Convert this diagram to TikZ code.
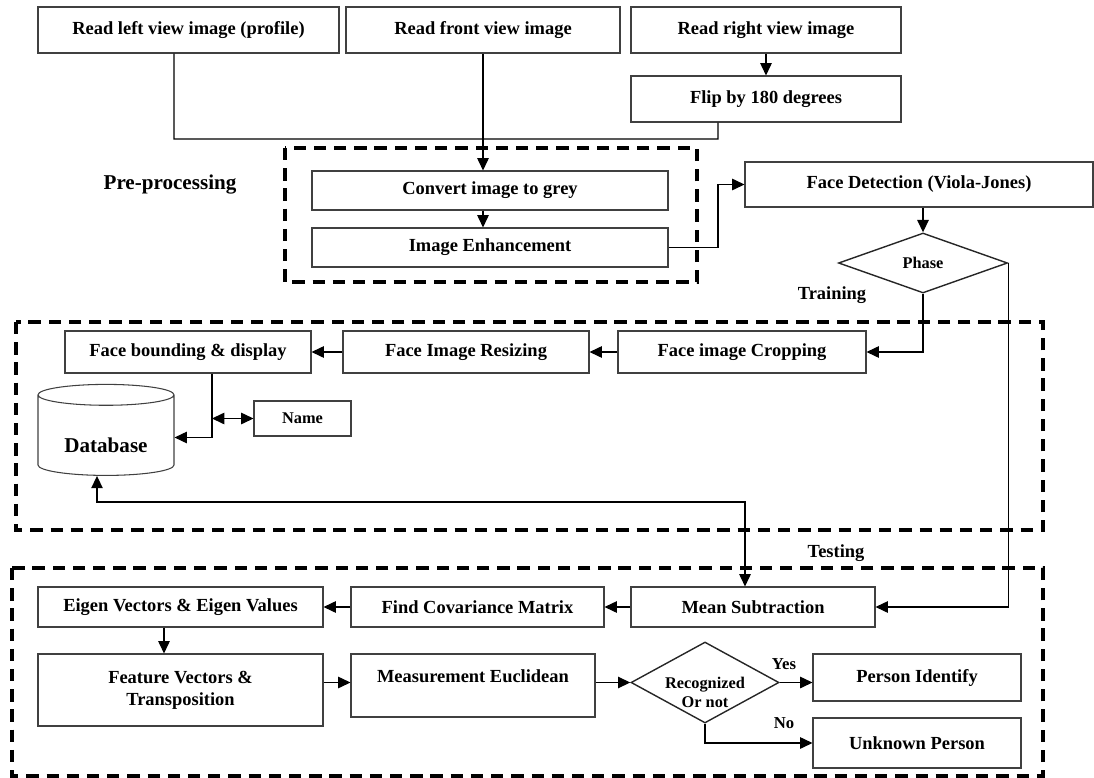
\documentclass[tikz,border=0pt]{standalone}
\usepackage{fontspec}
\setmainfont{Liberation Serif}
\usetikzlibrary{shapes.geometric, arrows.meta, positioning}
\tikzstyle{box} = [rectangle, draw=black!75, line width=0.6pt, text centered, align=center, inner sep=2pt, font=\fontsize{10.5}{12.5}\selectfont\bfseries]
\tikzstyle{decision} = [diamond, draw=black!85, line width=0.8pt, inner sep=0pt, align=center, font=\fontsize{9.3}{10.5}\selectfont\bfseries]
\tikzstyle{dbase} = [cylinder, shape border rotate=90, aspect=0.22, draw=black!75, line width=0.6pt, font=\fontsize{12}{14}\selectfont\bfseries]
\tikzstyle{region} = [line width=1.9pt, dash pattern=on 7pt off 4.5pt]
\tikzstyle{lbl} = [font=\fontsize{10.5}{12}\selectfont\bfseries]
\tikzstyle{link} = [line width=0.7pt]
\tikzstyle{arrow} = [line width=0.7pt, -{Triangle[length=7pt,width=6.5pt]}]
\tikzstyle{both} = [line width=0.7pt, {Triangle[length=7pt,width=6.5pt]}-{Triangle[length=7pt,width=6.5pt]}]

\begin{document}
\begin{tikzpicture}
    \useasboundingbox (0,0) rectangle (21.88,-15.56);

    \node (leftview) [box, minimum width=6.02cm, minimum height=0.92cm] at (3.77,-0.60) {Read left view image (profile)};
    \node (frontview) [box, minimum width=5.48cm, minimum height=0.92cm] at (9.66,-0.60) {Read front view image};
    \node (rightview) [box, minimum width=5.40cm, minimum height=0.92cm] at (15.32,-0.60) {Read right view image};
    \node (flip) [box, minimum width=5.40cm, minimum height=0.92cm] at (15.32,-1.98) {Flip by 180 degrees};

    % pre-processing
    \draw [region] (5.70,-2.96) rectangle (13.94,-5.64);
    \node (prelbl) [lbl, font=\fontsize{12}{14}\selectfont\bfseries] at (3.40,-3.70) {Pre-processing};
    \node (grey) [box, minimum width=7.12cm, minimum height=0.78cm] at (9.80,-3.81) {Convert image to grey};
    \node (enhance) [box, minimum width=7.12cm, minimum height=0.78cm] at (9.80,-4.95) {Image Enhancement};
    \node (detect) [box, minimum width=6.96cm, minimum height=0.90cm] at (18.38,-3.69) {Face Detection (Viola-Jones)};
    \node (phase) [decision, minimum width=3.38cm, minimum height=1.20cm] at (18.46,-5.26) {Phase};

    % training
    \node (trainlbl) [lbl] at (16.64,-5.90) {Training};
    \draw [region] (0.32,-6.44) rectangle (20.86,-10.60);
    \node (bound) [box, minimum width=4.92cm, minimum height=0.84cm] at (3.76,-7.04) {Face bounding \& display};
    \node (resize) [box, minimum width=4.92cm, minimum height=0.84cm] at (9.32,-7.04) {Face Image Resizing};
    \node (crop) [box, minimum width=4.96cm, minimum height=0.84cm] at (14.84,-7.04) {Face image Cropping};
    \node (db) [dbase, minimum width=2.72cm, minimum height=1.82cm, text height=17pt] at (2.12,-8.75) {Database};
    \node (name) [box, minimum width=1.94cm, minimum height=0.70cm, font=\fontsize{9.3}{11}\selectfont\bfseries] at (6.05,-8.37) {Name};

    % testing
    \node (testlbl) [lbl] at (16.72,-11.06) {Testing};
    \draw [region] (0.24,-11.36) rectangle (20.86,-15.52);
    \node (eigen) [box, minimum width=5.70cm, minimum height=0.80cm] at (3.61,-12.14) {Eigen Vectors \& Eigen Values};
    \node (cov) [box, minimum width=5.06cm, minimum height=0.80cm] at (9.55,-12.14) {Find Covariance Matrix};
    \node (mean) [box, minimum width=4.88cm, minimum height=0.80cm] at (15.06,-12.14) {Mean Subtraction};
    \node (feature) [box, minimum width=5.70cm, minimum height=1.44cm] at (3.61,-13.80) {Feature Vectors \&\\Transposition};
    \node (measure) [box, minimum width=4.88cm, minimum height=1.26cm, text height=14pt, text depth=17.7pt] at (9.46,-13.71) {Measurement Euclidean};
    \node (recog) [decision, minimum width=2.96cm, minimum height=1.62cm,
        label={[font=\fontsize{9.3}{10.5}\selectfont\bfseries, align=center, yshift=-0.2cm]center:Recognized\\Or not}] at (14.10,-13.65) {};
    \node (person) [box, minimum width=4.16cm, minimum height=0.94cm] at (18.34,-13.55) {Person Identify};
    \node (unknown) [box, minimum width=4.16cm, minimum height=1.00cm] at (18.34,-14.86) {Unknown Person};
    \node (yes) [lbl, font=\fontsize{9.5}{11}\selectfont\bfseries] at (15.68,-13.28) {Yes};
    \node (no) [lbl, font=\fontsize{9.5}{11}\selectfont\bfseries] at (15.68,-14.46) {No};

    \coordinate (merge) at (14.36,-2.78);
    \draw [link] ([xshift=-0.29cm]leftview.south) |- (merge) -- ([xshift=-0.96cm]flip.south);
    \draw [arrow] (rightview) -- (flip);
    \draw [arrow] (frontview.south) -- (frontview.south |- grey.north);
    \draw [arrow] (frontview.south |- grey.south) -- (frontview.south |- enhance.north);
    \draw [arrow] (enhance.east) -- (merge |- enhance.east) |- (detect.west);
    \draw [arrow] (phase.north |- detect.south) -- (phase.north);
    \draw [arrow] (phase.south) |- (crop.east);
    \draw [arrow] (phase.east) |- (mean.east);
    \draw [arrow] (crop) -- (resize);
    \draw [arrow] (resize) -- (bound);
    \draw [arrow] ([xshift=0.48cm]bound.south) |- (db.east);
    \coordinate (tap) at ([xshift=0.48cm]bound.south |- name.west);
    \draw [both] (tap) -- (name.west);
    \draw [both] ([xshift=-0.18cm]db.south) -- ++(0,-0.52) -| ([xshift=-0.16cm]mean.north);
    \draw [arrow] (mean) -- (cov);
    \draw [arrow] (cov) -- (eigen);
    \draw [arrow] ([xshift=-0.33cm]eigen.south) -- ([xshift=-0.33cm]feature.north);
    \draw [arrow] (feature.east |- recog.west) -- (measure.west |- recog.west);
    \draw [arrow] (measure.east |- recog.west) -- (recog.west);
    \draw [arrow] (recog.east) -- (person.west |- recog.east);
    \draw [arrow] (recog.south) |- (unknown.west);

\end{tikzpicture}
\end{document}
